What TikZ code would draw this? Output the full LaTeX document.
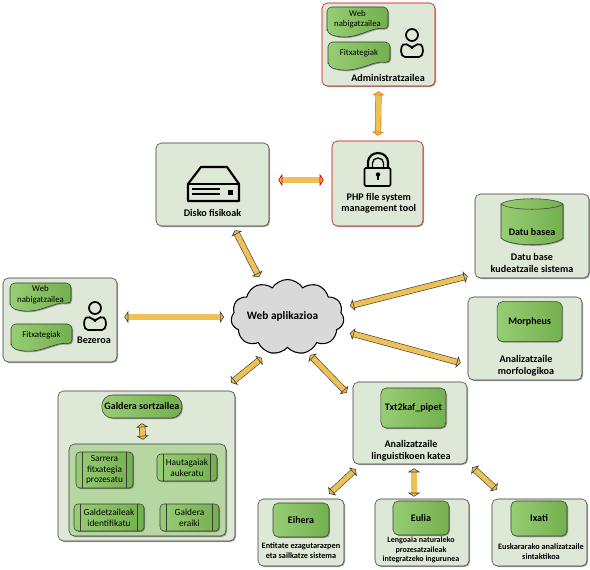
\documentclass[tikz,border=0pt]{standalone}
\usepackage{fontspec}
\setmainfont{Carlito}
\usepackage{xcolor}
\usepackage{tikz}
\usetikzlibrary{arrows.meta, positioning, shapes.geometric, shapes.symbols, shadows}

\definecolor{panelfill}{HTML}{DEE8D6}
\definecolor{innerfill}{HTML}{B7D7A2}
\definecolor{greenlight}{HTML}{97CD74}
\definecolor{greendark}{HTML}{74B04E}
\definecolor{goldfill}{HTML}{EDC156}
\definecolor{edgegray}{HTML}{3A3A3A}

\tikzset{
    boxsize/.style 2 args={minimum width=#1*0.75pt, minimum height=#2*0.75pt, inner sep=0pt},
    softshadow/.style={drop shadow={shadow xshift=0.8pt, shadow yshift=-0.8pt, opacity=0.35, fill=black}},
    panel/.style={draw=edgegray, line width=0.4pt, fill=panelfill, rounded corners=4pt, softshadow},
    redpanel/.style={panel, draw=red!80!black},
    greenbox/.style={draw=edgegray, line width=0.4pt, left color=greenlight, right color=greendark, rounded corners=4pt, softshadow, align=center, font=\fontsize{7.5}{9}\selectfont\bfseries},
    stepbox/.style={greenbox, font=\fontsize{7}{8}\selectfont, rounded corners=3pt,
        path picture={
            \draw[edgegray, line width=0.4pt] ([xshift=5pt]path picture bounding box.north west) -- ([xshift=5pt]path picture bounding box.south west);
            \draw[edgegray, line width=0.4pt] ([xshift=-5pt]path picture bounding box.north east) -- ([xshift=-5pt]path picture bounding box.south east);
        }},
    panellabel/.style={align=center, inner sep=0pt, font=\fontsize{7.6}{8.8}\selectfont\bfseries},
    smalllabel/.style={align=center, inner sep=0pt, font=\fontsize{6.2}{7.4}\selectfont\bfseries},
    wavetext/.style={align=center, inner sep=0pt, font=\fontsize{6.6}{8}\selectfont},
    flow/.style={draw=edgegray, line width=0.45pt, double=goldfill, double distance=3.8pt,
        {Triangle[width=9pt, length=3pt, fill=goldfill]}-{Triangle[width=9pt, length=3pt, fill=goldfill]}},
    redflow/.style={flow, draw=red!85!black, line width=0.55pt},
    usericon/.pic={
        \draw[black, line width=1.3pt] (0,0) circle (6);
        \draw[black, line width=1.3pt, rounded corners=3pt] (-5,8) .. controls (-12,11) and (-12,22) .. (-3,22) -- (3,22) .. controls (12,22) and (12,11) .. (5,8) -- (0,14) -- cycle;
    },
}

% Document shape with a wavy lower edge
\newcommand{\wavebox}[6]{
    \begin{scope}[shift={(#2,#3)}, x=#4*0.75pt, y=-#5*0.75pt]
        \draw[draw=edgegray, line width=0.4pt, left color=greenlight, right color=greendark, softshadow, rounded corners=3.5pt]
            (0,.82) -- (0,0) -- (1,0) -- (1,.7)
            .. controls (.7,.6) and (.45,1.12) .. (0,.82) -- cycle;
        \node[wavetext] (#1) at (.5,.38) {#6};
    \end{scope}
}

\begin{document}
\begin{tikzpicture}[x=0.75pt, y=-0.75pt]
    \useasboundingbox (0,0) rectangle (590,570);

    % Administrator and file tool
    \node[redpanel, boxsize={113}{83}] (admin_panel) at (378.5,44.5) {};
    \wavebox{admin_web}{327}{7}{61}{32}{Web\\nabigatzailea}
    \wavebox{admin_files}{328}{42}{62}{30}{Fitxategiak}
    \pic at (412,35) {usericon};
    \node[panellabel] (admin_lbl) at (388,78) {Administratzailea};

    \node[redpanel, boxsize={91}{85}] (php_panel) at (377.5,183.5) {};
    \node[panellabel, below=47pt of php_panel.north, xshift=1pt, anchor=center] (php_lbl) {PHP file system\\management tool};
    % Lock
    \draw[black, line width=1.6pt] (368,168) -- (368,162) arc[start angle=180, end angle=360, x radius=10, y radius=9] -- (388,168);
    \draw[black, line width=1pt] (372.5,168) -- (372.5,163) arc[start angle=180, end angle=360, x radius=5.5, y radius=5] -- (383.5,168);
    \draw[black, line width=1.2pt, fill=panelfill, rounded corners=1pt] (364.5,168) rectangle (390.5,186);
    \fill[black] (378,174.5) circle (2.2);
    \fill[black] (376.8,175) rectangle (379.2,180);

    % Disks
    \node[panel, boxsize={113}{83}] (disk_panel) at (212.5,184.5) {};
    \node[panellabel, above=10pt of disk_panel.south, anchor=center] (disk_lbl) {Disko fisikoak};
    \draw[black, line width=1.6pt, fill=panelfill, line join=round] (188,184) -- (201,167) -- (227,167) -- (239,184) -- (239,201) -- (188,201) -- cycle;
    \draw[black, line width=1.6pt] (188,184) -- (239,184);
    \draw[black, line width=0.8pt] (192,189) -- (220,189);
    \draw[black, line width=0.8pt] (192,194) -- (220,194);
    \fill[black] (228,190) rectangle (233,195);

    % Database
    \node[panel, boxsize={114}{84}] (db_panel) at (532,236) {};
    \draw[draw=edgegray, line width=0.4pt, left color=greenlight, right color=greendark, softshadow] (501,204) -- (501,238) .. controls (510,247) and (554,247) .. (563,238) -- (563,204) .. controls (554,197) and (510,197) .. (501,204) -- cycle;
    \draw[draw=edgegray, line width=0.4pt] (501,204) .. controls (510,211) and (554,211) .. (563,204);
    \node[panellabel, font=\fontsize{7.5}{9}\selectfont\bfseries] (db_text) at (532,232) {Datu basea};
    \node[panellabel] (db_lbl) at (532,263) {Datu base\\kudeatzaile sistema};

    % Morphology
    \node[panel, boxsize={114}{83}] (morph_panel) at (525,338.5) {};
    \node[greenbox, boxsize={65}{40}, below=3.5pt of morph_panel.north, xshift=3.5pt] (morph_box) {Morpheus};
    \node[panellabel] (morph_lbl) at (526,366) {Analizatzaile\\morfologikoa};

    % Client
    \node[panel, boxsize={114}{84}] (client_panel) at (60,320) {};
    \wavebox{client_web}{10}{283}{61}{30}{Web\\nabigatzailea}
    \wavebox{client_files}{11}{324}{61}{29}{Fitxategiak}
    \pic at (95,308) {usericon};
    \node[panellabel] (client_lbl) at (94,340) {Bezeroa};

    % Question generator
    \node[panel, boxsize={177}{150}] (gen_panel) at (146.5,466) {};
    \node[greenbox, boxsize={80}{23}, rounded corners=8pt, below=3pt of gen_panel.north, xshift=-3.5pt] (gen_box) {Galdera sortzailea};
    \node[panel, fill=innerfill, boxsize={157}{92}] (steps_panel) at (147.5,490) {};
    \node[stepbox, boxsize={57}{36}] (step_input) at (104.5,470) {Sarrera\\fitxategia\\prozesatu};
    \node[stepbox, boxsize={60}{27}] (step_cand) at (187,467.5) {Hautagaiak\\aukeratu};
    \node[stepbox, boxsize={70}{27}] (step_wh) at (109,517.5) {Galdetzaileak\\identifikatu};
    \node[stepbox, boxsize={59}{27}] (step_build) at (189.5,517.5) {Galdera\\eraiki};

    % Linguistic chain
    \node[panel, boxsize={114}{82}] (chain_panel) at (410,423) {};
    \node[greenbox, boxsize={65}{40}, below=4.5pt of chain_panel.north, xshift=2.6pt] (chain_box) {Txt2kaf\_pipet};
    \node[panellabel] (chain_lbl) at (411,451) {Analizatzaile\\linguistikoen katea};

    \node[panel, boxsize={86}{67}] (eihera_panel) at (301,532.5) {};
    \node[greenbox, boxsize={56}{34}] (eihera_box) at (301,520) {Eihera};
    \node[smalllabel] (eihera_lbl) at (301,551) {Entitate ezagutarazpen\\eta sailkatze sistema};

    \node[panel, boxsize={94}{67}] (eulia_panel) at (422,532.5) {};
    \node[greenbox, boxsize={56}{34}] (eulia_box) at (421,518) {Eulia};
    \node[smalllabel, font=\fontsize{6}{7.2}\selectfont\bfseries] (eulia_lbl) at (421,550) {Lengoaia naturaleko\\prozesatzaileak\\integratzeko ingurunea};

    \node[panel, boxsize={95}{67}] (ixati_panel) at (539.5,532.5) {};
    \node[greenbox, boxsize={56}{35}] (ixati_box) at (539,518.5) {Ixati};
    \node[smalllabel] (ixati_lbl) at (541,552) {Euskararako analizatzaile\\sintaktikoa};

    % Web application
    \node[cloud, cloud puffs=11, cloud puff arc=115, aspect=1.5, draw=black, line width=0.8pt, fill=black!15, boxsize={113}{75}] (web_app) at (287.5,317) {};
    \node[panellabel, font=\fontsize{8.5}{10}\selectfont\bfseries] (web_lbl) at (282.5,316) {Web aplikazioa};

    % Arrows
    \draw[flow, draw=orange!90!black] ([shift={(0,5)}]admin_panel.south) -- ([shift={(0.5,-5)}]php_panel.north);
    \draw[redflow] ([shift={(9,-4.5)}]disk_panel.east) -- ([shift={(-8,-3.5)}]php_panel.west);
    \draw[flow] ([shift={(22.5,4)}]disk_panel.south) -- ([shift={(-28.5,-40)}]web_app.center);
    \draw[flow] ([shift={(7,-3)}]client_panel.east) -- ([shift={(-63.5,0)}]web_app.center);
    \draw[flow] ([shift={(62.5,-11)}]web_app.center) -- ([shift={(-7,-2)}]db_panel.south west);
    \draw[flow] ([shift={(62.5,16)}]web_app.center) -- ([shift={(-7,24.5)}]morph_panel.west);
    \draw[flow] ([shift={(-4,-8)}]gen_panel.north east) -- ([shift={(-25.5,41)}]web_app.center);
    \draw[flow] ([shift={(22.5,38)}]web_app.center) -- ([shift={(-6,11)}]chain_panel.north west);
    \draw[flow] ([shift={(0,5)}]gen_box.south) -- ([shift={(-4.5,-4)}]steps_panel.north);
    \draw[flow] ([shift={(3,5)}]chain_panel.south west) -- ([shift={(-15,-5)}]eihera_panel.north east);
    \draw[flow] ([shift={(4,4)}]chain_panel.south) -- ([shift={(-8,-2)}]eulia_panel.north);
    \draw[flow] ([shift={(5,3)}]chain_panel.south east) -- ([shift={(5,-9)}]ixati_panel.north west);

\end{tikzpicture}
\end{document}
